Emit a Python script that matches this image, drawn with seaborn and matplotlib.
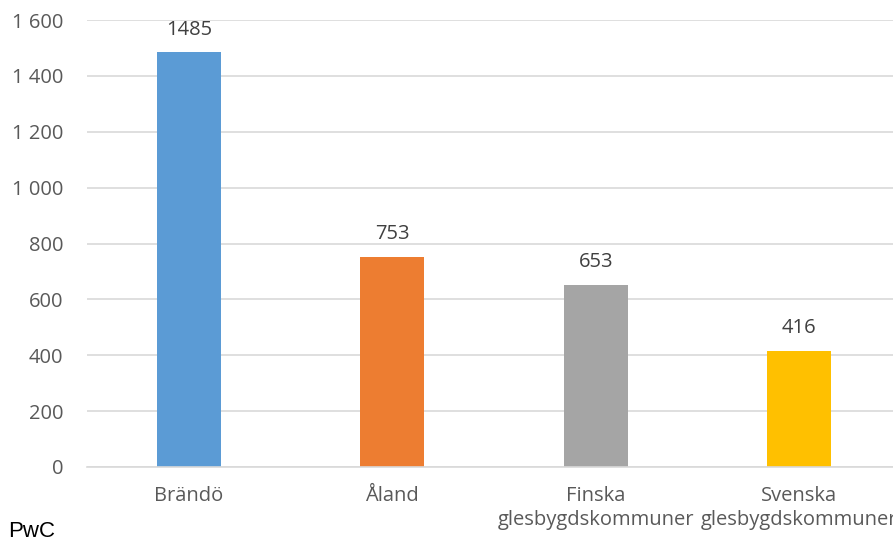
import matplotlib
matplotlib.use("Agg")
import matplotlib.pyplot as plt
import seaborn as sns
import pandas as pd

# data
categories = ["Brändö", "Åland", "Finska\nglesbygdskommuner", "Svenska\nglesbygdskommuner"]
values = [1485, 753, 653, 416]
colors = ["#5B9BD5", "#ED7D31", "#A5A5A5", "#FFC000"]
yticks = [0, 200, 400, 600, 800, 1000, 1200, 1400, 1600]

df = pd.DataFrame({"kategori": categories, "antal": values})

sns.set_style("white")
plt.rcParams["font.family"] = ["Open Sans", "DejaVu Sans"]

fig = plt.figure(figsize=(8.93, 5.39), dpi=100)
ax = fig.add_axes([87 / 893, 72 / 539, (901 - 87) / 893, (467 - 20) / 539])

sns.barplot(data=df, x="kategori", y="antal", hue="kategori", palette=colors,
            width=0.315, legend=False, ax=ax, saturation=1, linewidth=0)

ax.set_ylim(0, 1600)
ax.set_yticks(yticks)
ax.set_yticklabels([f"{v:,}".replace(",", " ") for v in yticks])
ax.yaxis.grid(True, color="#D9D9D9", linewidth=1.2)
ax.set_axisbelow(True)
ax.set_xlabel("")
ax.set_ylabel("")
for s in ["top", "right", "left"]:
    ax.spines[s].set_visible(False)
ax.spines["bottom"].set_color("#D9D9D9")
ax.spines["bottom"].set_linewidth(1.2)
ax.tick_params(axis="both", length=0, labelsize=14.5, colors="#595959")
ax.tick_params(axis="y", pad=17)
ax.tick_params(axis="x", pad=14)
plt.setp(ax.get_xticklabels(), linespacing=1.25)

for i, v in enumerate(values):
    ax.text(i, v + 45, str(v), ha="center", va="bottom", fontsize=14.5, color="#404040")

fig.text(8 / 893, -3 / 539, "PwC", fontsize=16, color="black",
         family=["Liberation Sans", "DejaVu Sans"], ha="left", va="bottom")

fig.savefig("out.png", dpi=100)
